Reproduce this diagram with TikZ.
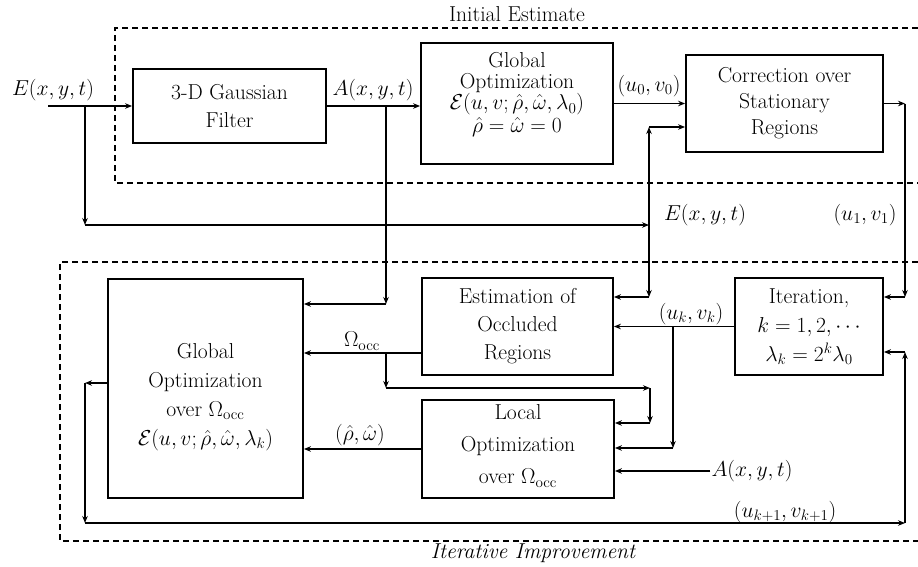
\RequirePackage{fix-cm}
\documentclass[tikz,border=0pt]{standalone}
\usetikzlibrary{arrows.meta}
\begin{document}
\begin{tikzpicture}[x=1pt,y=-1pt,
  font=\fontsize{21.6}{28}\selectfont,
  box/.style={draw,line width=1.8pt,align=center,inner sep=0pt},
  txt/.style={align=center,inner sep=0pt},
  arr/.style={line width=1.8pt,-{Stealth[length=7pt,width=5.5pt]}},
  frame/.style={line width=1.6pt,dash pattern=on 6pt off 4pt},
  lab/.style={inner sep=1pt}]
\useasboundingbox (0,0) rectangle (918,566);

% dashed frames
\draw[frame] (918,28) -- (115,28) -- (115,183) -- (918,183);
\draw[frame] (918,262) -- (60,262) -- (60,541) -- (918,541);
\node[lab] (tIE) at (517,14) {Initial Estimate};
\node[lab] (tII) at (533,553) {\itshape Iterative Improvement};

% boxes
\node[box,minimum width=193pt,minimum height=74pt] (gauss) at (229.5,106) {3-D Gaussian\\Filter};
\node[box,minimum width=192pt,minimum height=121pt] (glob1) at (517,103.5) {};
\node[txt,font=\fontsize{21.6}{21}\selectfont] (glob1t) at (517,95)
  {Global\\Optimization\\$\mathcal{E}(u,v;\hat\rho,\hat\omega,\lambda_0)$\\[2pt]$\hat\rho=\hat\omega=0$};
\node[box,minimum width=197pt,minimum height=97pt,font=\fontsize{21.6}{26}\selectfont] (corr) at (784.5,103.5)
  {Correction over\\Stationary\\Regions};
\node[box,minimum width=191pt,minimum height=97pt] (est) at (517.5,326.5)
  {Estimation of\\Occluded\\Regions};
\node[box,minimum width=148pt,minimum height=97pt,font=\fontsize{21.6}{29}\selectfont] (iter) at (809,326.5)
  {Iteration,\\$k=1,2,\cdots$\\$\lambda_k=2^k\lambda_0$};
\node[box,minimum width=192pt,minimum height=98pt] (local) at (518,449) {};
\node[txt,font=\fontsize{21.6}{32}\selectfont] (localt) at (518,446)
  {Local\\Optimization\\over $\Omega_{\mathrm{occ}}$};
\node[box,minimum width=195pt,minimum height=219pt] (glob2) at (205.5,388.5) {};
\node[txt,font=\fontsize{21.6}{29}\selectfont] (glob2t) at (205.5,397)
  {Global\\Optimization\\over $\Omega_{\mathrm{occ}}$\\$\mathcal{E}(u,v;\hat\rho,\hat\omega,\lambda_k)$};

% labels
\node[lab] (lE) at (53,90) {$E(x,y,t)$};
\node[lab] (lA) at (373,90) {$A(x,y,t)$};
\node[lab] (lu0) at (649,86) {$(u_0,v_0)$};
\node[lab] (lE2) at (705,215) {$E(x,y,t)$};
\node[lab] (lu1) at (865,215) {$(u_1,v_1)$};
\node[lab] (luk) at (691,314) {$(u_k,v_k)$};
\node[lab] (lOm) at (362,341) {$\Omega_{\mathrm{occ}}$};
\node[lab] (lrw) at (360,435) {$(\hat\rho,\hat\omega)$};
\node[lab] (Alab) at (752,471) {$A(x,y,t)$};
\node[lab] (luk1) at (785,512) {$(u_{k+1},v_{k+1})$};

% coordinates
\coordinate (Ein) at (48,106);
\coordinate (jE) at (85,106);
\coordinate (jE2) at (85,225);
\coordinate (jE3) at (649,225);
\coordinate (jC) at (649,127);
\coordinate (jD) at (649,297);
\coordinate (jA) at (386,106);
\coordinate (jA2) at (386,304);
\coordinate (jU1) at (905,103.5);
\coordinate (jU2) at (905,297);
\coordinate (jK) at (673,326.5);
\coordinate (jK2) at (673,448);
\coordinate (jO) at (386,353);
\coordinate (jO2) at (386,388);
\coordinate (jO3) at (650,388);
\coordinate (jO4) at (650,423);
\coordinate (jF1) at (85,383);
\coordinate (jF2) at (85,523);
\coordinate (jF3) at (905,523);
\coordinate (jF4) at (905,352);

% connectors
\draw[arr] (Ein) -- (gauss.west);
\draw[arr] (jE) -- (jE2);
\draw[arr] (jE2) -- (jE3);
\draw[arr] (jE3) -- (jC);
\draw[arr] (jC) -- (corr.west |- jC);
\draw[arr] (jE3) -- (jD);
\draw[arr] (jD) -- (est.east |- jD);
\draw[arr] (gauss.east) -- (glob1.west |- gauss.east);
\draw[arr] (jA) -- (jA2);
\draw[arr] (jA2) -- (glob2.east |- jA2);
\draw[arr] (glob1.east) -- (corr.west);
\draw[arr] (corr.east) -- (jU1);
\draw[arr] (jU1) -- (jU2);
\draw[arr] (jU2) -- (iter.east |- jU2);
\draw[arr] (iter.west) -- (est.east);
\draw[arr] (jK) -- (jK2);
\draw[arr] (jK2) -- (local.east |- jK2);
\draw[arr] (est.west |- jO) -- (glob2.east |- jO);
\draw[arr] (jO) -- (jO2);
\draw[arr] (jO2) -- (jO3);
\draw[arr] (jO3) -- (jO4);
\draw[arr] (jO4) -- (local.east |- jO4);
\draw[arr] (local.west) -- (glob2.east |- local.west);
\draw[arr] (Alab.west) -- (local.east |- Alab.west);
\draw[arr] (glob2.west |- jF1) -- (jF1);
\draw[arr] (jF1) -- (jF2);
\draw[arr] (jF2) -- (jF3);
\draw[arr] (jF3) -- (jF4);
\draw[arr] (jF4) -- (iter.east |- jF4);
\end{tikzpicture}
\end{document}
